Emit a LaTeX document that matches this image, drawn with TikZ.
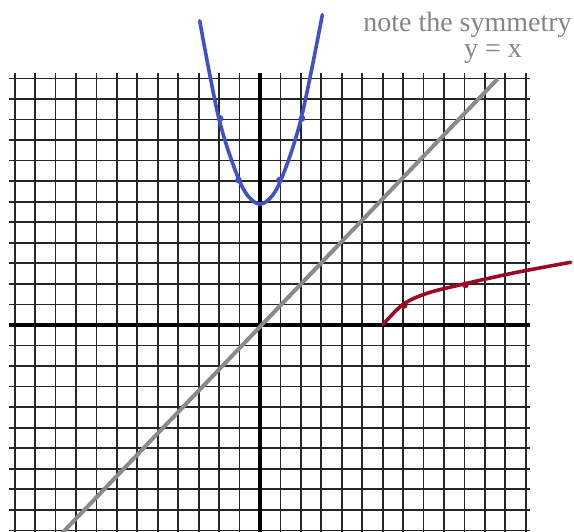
\documentclass[tikz,border=0pt]{standalone}
\usepackage{fontspec}
\setmainfont{Liberation Serif}
\definecolor{parablue}{HTML}{4050C8}
\definecolor{invred}{HTML}{9B0A25}
\definecolor{symgray}{HTML}{8A8A8A}
\definecolor{txtgray}{HTML}{858585}
\tikzset{
  gridline/.style={line width=1.3pt, black!85},
  axisline/.style={line width=3pt, black},
  curveline/.style={line width=2.7pt, line cap=round, line join=round},
  symline/.style={line width=3pt, symgray},
  dotmark/.style={circle, inner sep=0pt, minimum size=5pt},
  note/.style={text=txtgray, font=\fontsize{21}{24}\selectfont, inner sep=0pt, anchor=base}
}
\begin{document}
\begin{tikzpicture}[x=15.33pt, y=15.41pt]
\useasboundingbox (-12.72,-10.073) rectangle (15.36,15.815);
% grid
\foreach \i in {-12,...,13} \draw[gridline] (\i,12.25) -- (\i,-10.3);
\foreach \j in {-10,...,12} \draw[gridline] (-12.3,\j) -- (13.2,\j);
% axes
\coordinate (xl) at (-12.3,0);
\coordinate (xr) at (13.2,0);
\coordinate (yt) at (0,12.25);
\coordinate (yb) at (0,-10.3);
\draw[axisline] (xl) -- (xr);
\draw[axisline] (yt) -- (yb);
% line y = x
\coordinate (sa) at (-9.7,-10.15);
\coordinate (sb) at (11.62,11.97);
\draw[symline] (sa) -- (sb);
% parabola y = x^2 + 6
\draw[curveline, parablue] plot[smooth, tension=0.55] coordinates {(-2.95,14.8) (-2,10) (-1,7) (-0.3,6) (0.3,6) (1,7) (2,10) (3.05,15.1)};
\foreach \p in {(-1.05,7.05),(0.95,7.05),(-1.95,10.05),(2.05,10.05)}
  \node[dotmark, fill=parablue] at \p {};
% inverse y = sqrt(x-6)
\draw[curveline, invred] plot[smooth, tension=0.55] coordinates {(6,0) (7,1) (8.2,1.55) (10,2) (12.5,2.55) (15.2,3.05)};
\foreach \p in {(7.05,0.95),(10.05,1.95)}
  \node[dotmark, fill=invred] at \p {};
% labels
\node[note] (n1) at (10.15,14.3) {note the symmetry};
\node[note] (n2) at (11.4,13.04) {y = x};
\end{tikzpicture}
\end{document}
